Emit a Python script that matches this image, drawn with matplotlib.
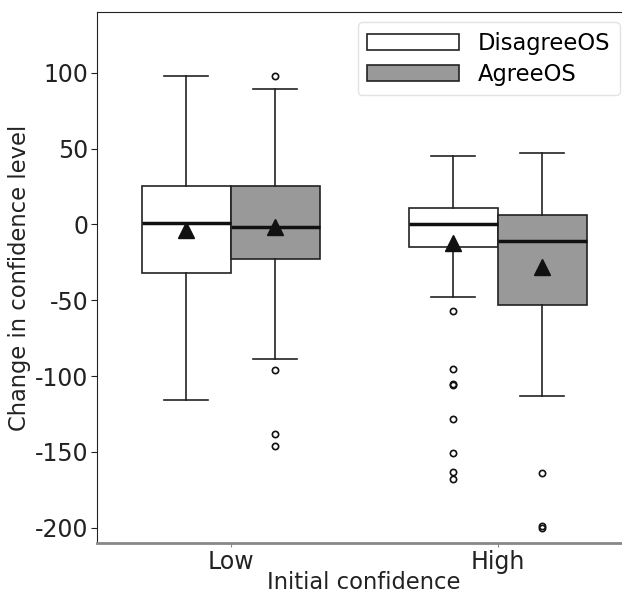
import matplotlib
matplotlib.use("Agg")
import matplotlib.pyplot as plt
from matplotlib.patches import Patch

plt.rcParams["axes.unicode_minus"] = False

# groups on the x axis and the two hue levels
groups = ["Low", "High"]
hues = ["DisagreeOS", "AgreeOS"]
hue_colors = ["white", "#999999"]

# box statistics, order: Low-Disagree, Low-Agree, High-Disagree, High-Agree
whislo = [-116, -89, -48, -113]
q1 = [-32, -23, -15, -53]
med = [1, -2, 0, -11]
q3 = [25, 25, 11, 6]
whishi = [98, 89, 45, 47]
means = [-4, -2, -12, -28]
fliers = [
    [],
    [98, -96, -138, -146],
    [-57, -95, -105, -106, -128, -151, -163, -168],
    [-164, -199, -200],
]

fig = plt.figure(figsize=(6.22, 5.94), dpi=100)
# the axes run past the right edge of the figure, as in the cropped original
ax = fig.add_axes([97 / 622, 1 - 543 / 594, 534 / 622, 531 / 594])

width = 1 / 3
stats = []
positions = []
colors = []
for i in range(len(whislo)):
    g, h = divmod(i, 2)
    stats.append(dict(whislo=whislo[i], q1=q1[i], med=med[i], q3=q3[i],
                      whishi=whishi[i], mean=means[i], fliers=fliers[i]))
    positions.append(g + (h - 0.5) * width)
    colors.append(hue_colors[h])

edge = "#222222"
bp = ax.bxp(stats, positions=positions, widths=width, patch_artist=True,
            showmeans=True, showfliers=True,
            boxprops=dict(edgecolor=edge, linewidth=1.2),
            whiskerprops=dict(color=edge, linewidth=1.2),
            capprops=dict(color=edge, linewidth=1.2),
            medianprops=dict(color="#111111", linewidth=2.5),
            meanprops=dict(marker="^", markerfacecolor="#111111",
                           markeredgecolor="#111111", markersize=11),
            flierprops=dict(marker="o", markerfacecolor="none",
                            markeredgecolor="#111111", markersize=4.5,
                            markeredgewidth=1.2))
for patch, c in zip(bp["boxes"], colors):
    patch.set_facecolor(c)

ax.set_xlim(-0.5, 1.5)
ax.set_ylim(-210, 140)
ax.set_xticks([0, 1])
ax.set_xticklabels(groups)
ax.set_yticks([100, 50, 0, -50, -100, -150, -200])
ax.tick_params(axis="both", labelsize=17, colors="#222222")
ax.tick_params(axis="x", length=3, pad=2, color="#888888")
ax.tick_params(axis="y", length=4, pad=2, color="#222222")

ax.spines["right"].set_visible(False)
ax.spines["bottom"].set_color("#888888")
ax.spines["bottom"].set_linewidth(2)
ax.spines["left"].set_color("#222222")
ax.spines["top"].set_color("#222222")

ax.set_xlabel("Initial confidence", fontsize=16.3, color="#222222", labelpad=-2)
ax.set_ylabel("Change in confidence level", fontsize=16.3, color="#222222", labelpad=3)

handles = [Patch(facecolor=c, edgecolor=edge, linewidth=1.2, label=h)
           for h, c in zip(hues, hue_colors)]
ax.legend(handles=handles, loc="upper right",
          bbox_to_anchor=((620 - 97) / 534, 1 - 10 / 531),
          fontsize=16.3, handlelength=4.05, handletextpad=0.84,
          frameon=True, fancybox=True, edgecolor="#dddddd",
          borderpad=0.42, labelspacing=0.37, borderaxespad=0)

fig.savefig("out.png", dpi=100)
